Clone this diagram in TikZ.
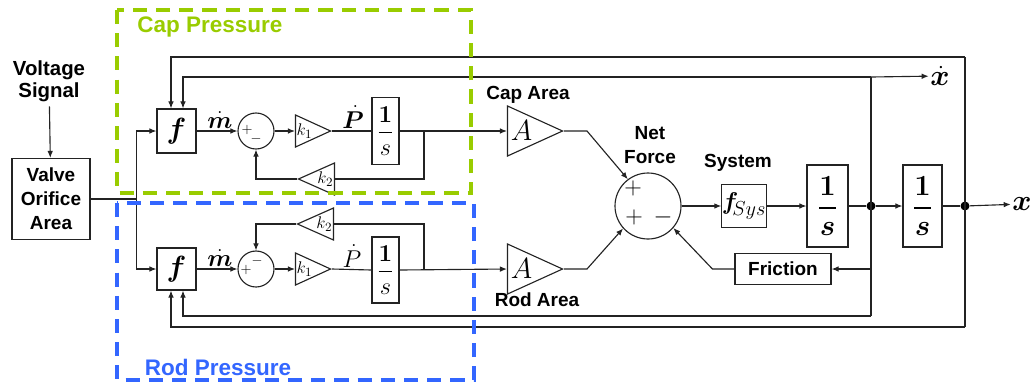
\documentclass[tikz,border=0pt]{standalone}
\usepackage{amsmath}
\usepackage{bm}
\usepackage[no-math]{fontspec}
\setmainfont{Liberation Sans}
\usetikzlibrary{shapes.geometric, arrows.meta, calc}
\definecolor{cCap}{RGB}{153,204,0}
\definecolor{cRod}{RGB}{51,102,255}
\definecolor{cLine}{RGB}{35,35,35}
\newcommand{\pxl}{0.025cm}
\tikzset{
	blk/.style={rectangle, draw=cLine, line width=0.8pt, inner sep=0pt, align=center},
	sumc/.style={circle, draw=cLine, line width=0.8pt, inner sep=0pt},
	gain/.style={isosceles triangle, isosceles triangle stretches, draw=cLine, line width=0.8pt, inner sep=0pt},
	sig/.style={-{Latex[length=5pt,width=4pt]}, line width=0.8pt, draw=cLine},
	wire/.style={line width=0.8pt, draw=cLine},
	lbl/.style={font=\fontsize{13.5}{17}\selectfont\bfseries, align=center},
	zone/.style={line width=2.2pt, dash pattern=on 10pt off 6.5pt},
	jdot/.style={circle, fill=black, inner sep=0pt, minimum size=9*\pxl},
}
\begin{document}
\begin{tikzpicture}[x=\pxl, y=-\pxl]
\useasboundingbox (0,0) rectangle (1031,384);
% input side
\node[lbl, font=\fontsize{14.5}{15.6}\selectfont\bfseries] (volt) at (49,81) {Voltage\\Signal};
\node[blk, lbl, minimum width=78*\pxl, minimum height=81*\pxl] (valve) at (51,199) {Valve\\Orifice\\Area};
% cap side
\node[blk, minimum width=39*\pxl, minimum height=44*\pxl, font=\fontsize{21}{21}\selectfont] (fc) at (176.5,131) {$\bm{f}$};
\node[sumc, minimum size=36*\pxl] (sc) at (256,131) {};
\node[font=\fontsize{10}{10}\selectfont, inner sep=0pt] (scp) at (247,130) {$+$};
\node[font=\fontsize{10}{10}\selectfont, inner sep=0pt] (scm) at (256,139) {$-$};
\node[gain, minimum width=32*\pxl, minimum height=35*\pxl, anchor=apex, font=\fontsize{13}{13}\selectfont] (k1c) at (332,131) {$k_1$};
\node[blk, minimum width=27*\pxl, minimum height=67*\pxl, font=\fontsize{16}{16}\selectfont] (ic) at (385.5,131) {$\displaystyle\frac{\mathbf{1}}{s}$};
\node[gain, shape border rotate=180, minimum width=32*\pxl, minimum height=36*\pxl, anchor=apex, font=\fontsize{13}{13}\selectfont] (k2c) at (297,179) {$k_2$};
\node[gain, minimum width=50*\pxl, minimum height=55*\pxl, anchor=apex, font=\fontsize{20}{20}\selectfont] (Ac) at (564,131) {$A$};
\node[font=\fontsize{16}{16}\selectfont, inner sep=0pt] (mc) at (220,120) {$\dot{\bm{m}}$};
\node[font=\fontsize{16}{16}\selectfont, inner sep=0pt] (pc) at (353,117) {$\dot{\bm{P}}$};
\node[lbl] (capa) at (528,95) {Cap Area};
% rod side
\node[blk, minimum width=39*\pxl, minimum height=42*\pxl, font=\fontsize{21}{21}\selectfont] (fr) at (176.5,269) {$\bm{f}$};
\node[sumc, minimum size=36*\pxl] (sr) at (256,269) {};
\node[font=\fontsize{10}{10}\selectfont, inner sep=0pt] (srp) at (246,270) {$+$};
\node[font=\fontsize{10}{10}\selectfont, inner sep=0pt] (srm) at (257,261) {$-$};
\node[gain, minimum width=32*\pxl, minimum height=35*\pxl, anchor=apex, font=\fontsize{13}{13}\selectfont] (k1r) at (332,269) {$k_1$};
\node[blk, minimum width=27*\pxl, minimum height=66*\pxl, font=\fontsize{16}{16}\selectfont] (ir) at (385.5,270) {$\displaystyle\frac{\mathbf{1}}{s}$};
\node[gain, shape border rotate=180, minimum width=32*\pxl, minimum height=36*\pxl, anchor=apex, font=\fontsize{13}{13}\selectfont] (k2r) at (296,224) {$k_2$};
\node[gain, minimum width=50*\pxl, minimum height=55*\pxl, anchor=apex, font=\fontsize{20}{20}\selectfont] (Ar) at (564,269) {$A$};
\node[font=\fontsize{16}{16}\selectfont, inner sep=0pt] (mr) at (220,258) {$\dot{\bm{m}}$};
\node[font=\fontsize{16}{16}\selectfont, inner sep=0pt] (pr) at (352,256) {$\dot{P}$};
\node[lbl] (roda) at (537,300) {Rod Area};
% force and motion
\node[sumc, minimum size=66*\pxl] (net) at (648,206) {};
\node[font=\fontsize{19}{19}\selectfont, inner sep=0pt] (np1) at (633,188) {$+$};
\node[font=\fontsize{19}{19}\selectfont, inner sep=0pt] (np2) at (634,217) {$+$};
\node[font=\fontsize{19}{19}\selectfont, inner sep=0pt] (nm) at (663,217) {$-$};
\node[lbl] (netl) at (650,145) {Net\\Force};
\node[blk, minimum width=44*\pxl, minimum height=43*\pxl, font=\fontsize{19}{19}\selectfont] (fsys) at (744,206) {$\bm{f}_{\!Sys}$};
\node[lbl] (sysl) at (738,163) {System};
\node[blk, minimum width=41*\pxl, minimum height=82*\pxl, font=\fontsize{22}{22}\selectfont] (i1) at (827.5,206) {$\displaystyle\frac{\mathbf{1}}{\bm{s}}$};
\node[jdot] (d1) at (871,206) {};
\node[blk, minimum width=39*\pxl, minimum height=82*\pxl, font=\fontsize{22}{22}\selectfont] (i2) at (922.5,206) {$\displaystyle\frac{\mathbf{1}}{\bm{s}}$};
\node[jdot] (d2) at (965,206) {};
\node[blk, lbl, minimum width=96*\pxl, minimum height=31*\pxl] (fric) at (783,269) {Friction};
\node[font=\fontsize{20}{20}\selectfont, inner sep=1pt] (xd) at (940,76) {$\dot{\bm{x}}$};
\node[font=\fontsize{20}{20}\selectfont, inner sep=1pt] (xo) at (1022,204) {$\bm{x}$};
\coordinate (split) at ($(valve.east)+(46,0)$);
\coordinate (bc) at (424,131);
\coordinate (br) at (424,269);
\coordinate (vt) at (871,77);
\coordinate (vb) at (871,316);
\coordinate (vf) at (871,269);
\coordinate (ot) at (965,57);
\coordinate (ob) at (965,327);
% connectors
\draw[sig] (volt) -- (valve);
\draw[wire] (valve.east) -- (split);
\draw[sig] (split) |- (fc.west);
\draw[sig] (split) |- (fr.west);
\draw[sig] (fc) -- (sc);
\draw[sig] (sc) -- (k1c.lower side);
\draw[wire] (k1c.apex) -- (ic.west);
\draw[sig] (ic.east) -- (Ac.lower side);
\draw[wire] (bc) |- (k2c.lower side);
\draw[sig] (k2c.apex) -| (sc.south);
\draw[sig] (fr) -- (sr);
\draw[sig] (sr) -- (k1r.lower side);
\draw[wire] (k1r.apex) -- (ir.west);
\draw[sig] (ir.east) -- (Ar.lower side);
\draw[wire] (br) |- (k2r.lower side);
\draw[sig] (k2r.apex) -| (sr.north);
\draw[sig] (Ac.apex) -- ++(23,0) -- (net.127);
\draw[sig] (Ar.apex) -- ++(23,0) -- (net.222);
\draw[sig] (net) -- (fsys);
\draw[sig] (fsys) -- (i1);
\draw[wire] (i1) -- (d1);
\draw[sig] (d1) -- (i2);
\draw[wire] (i2) -- (d2);
\draw[sig] (d2) -- (xo);
\draw[wire] (vt) -- (vb);
\draw[sig] (vt) -- (xd);
\draw[sig] (vt) -| ($(fc.north)+(6.5,0)$);
\draw[sig] (vb) -| ($(fr.south)+(6.5,0)$);
\draw[sig] (vf) -- (fric);
\draw[sig] (fric.west) -- ++(-22,0) -- (net.319);
\draw[wire] (ot) -- (ob);
\draw[sig] (ot) -| ($(fc.north)+(-5.5,0)$);
\draw[sig] (ob) -| ($(fr.south)+(-5.5,0)$);
% pressure zones
\draw[zone, cCap] (117,10) rectangle (471,193);
\draw[zone, cRod] (117,203) rectangle (474,380);
\node[font=\fontsize{16}{16}\selectfont\bfseries, text=cCap] (capz) at (210,27) {Cap Pressure};
\node[font=\fontsize{16}{16}\selectfont\bfseries, text=cRod] (rodz) at (218,367) {Rod Pressure};
\end{tikzpicture}
\end{document}
